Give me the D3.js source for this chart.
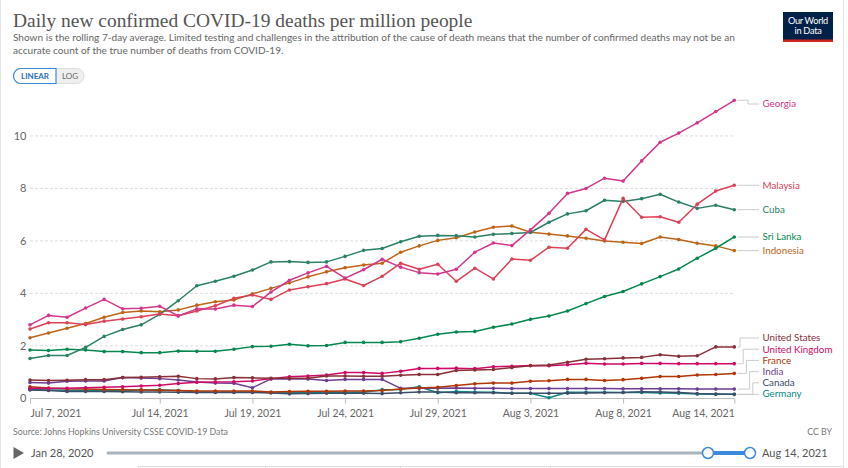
<!DOCTYPE html>
<html><head><meta charset="utf-8">
<script src="https://cdn.jsdelivr.net/npm/d3@7"></script>
<style>
html,body{margin:0;padding:0;background:#fff;}
svg{display:block;font-family:Lato,"Noto Sans",sans-serif;}
</style></head>
<body>
<svg id="chart" width="848" height="468"></svg>
<script>
// ---- data ----
const startDate = "2021-07-07";
const endDate = "2021-08-14";
const tickDates = ["2021-07-07","2021-07-14","2021-07-19","2021-07-24","2021-07-29","2021-08-03","2021-08-08","2021-08-14"];
const tickLabels = ["Jul 7, 2021","Jul 14, 2021","Jul 19, 2021","Jul 24, 2021","Jul 29, 2021","Aug 3, 2021","Aug 8, 2021","Aug 14, 2021"];
const yTicks = [0,2,4,6,8,10];

const countries = ["Georgia","Malaysia","Cuba","Sri Lanka","Indonesia","United States","United Kingdom","France","India","Canada","Germany"];
const colors = ["#D3378C","#DC4257","#2C8068","#05874F","#BE6418","#883039","#CF0A66","#B13507","#6D3E91","#3B4D68","#0E8884"];

const georgia   = [2.80,3.16,3.09,3.44,3.77,3.41,3.43,3.51,3.14,3.41, 3.40,3.55,3.50,4.05,4.50,4.78,5.03,4.58,4.90,5.30, 5.00,4.79,4.74,4.92,5.57,5.92,5.82,6.42,7.05,7.81, 8.00,8.39,8.28,9.05,9.76,10.11,10.50,10.93,11.36];
const malaysia  = [2.64,2.88,2.88,2.81,2.94,3.02,3.11,3.21,3.15,3.33, 3.53,3.81,3.94,3.77,4.13,4.25,4.37,4.55,4.30,4.65, 5.15,4.92,5.11,4.46,4.96,4.55,5.31,5.26,5.76,5.72, 6.44,6.04,7.62,6.90,6.92,6.71,7.40,7.90,8.12];
const cuba      = [1.52,1.63,1.63,1.94,2.36,2.62,2.80,3.20,3.72,4.29, 4.46,4.65,4.89,5.20,5.21,5.18,5.20,5.41,5.64,5.71, 5.97,6.18,6.21,6.20,6.15,6.25,6.28,6.32,6.71,7.03, 7.15,7.55,7.50,7.61,7.78,7.48,7.24,7.36,7.19];
const sriLanka  = [1.84,1.82,1.87,1.84,1.78,1.78,1.74,1.74,1.80,1.79, 1.79,1.87,1.97,1.98,2.06,2.00,2.01,2.13,2.13,2.13, 2.16,2.29,2.44,2.53,2.55,2.71,2.83,3.01,3.14,3.33, 3.61,3.88,4.07,4.36,4.64,4.93,5.34,5.72,6.15];
const indonesia = [2.31,2.49,2.67,2.85,3.09,3.27,3.33,3.30,3.37,3.55, 3.68,3.75,3.98,4.19,4.40,4.63,4.82,4.98,5.08,5.15, 5.57,5.81,6.02,6.12,6.34,6.52,6.57,6.33,6.26,6.19, 6.10,6.00,5.95,5.90,6.15,6.05,5.91,5.81,5.63];
const unitedStates = [0.70,0.68,0.69,0.71,0.71,0.79,0.80,0.82,0.84,0.75, 0.74,0.79,0.78,0.76,0.76,0.76,0.85,0.85,0.84,0.84, 0.88,0.91,0.91,1.06,1.08,1.10,1.17,1.24,1.27,1.37, 1.49,1.51,1.54,1.56,1.66,1.60,1.62,1.96,1.96];
const unitedKingdom = [0.38,0.37,0.38,0.40,0.42,0.44,0.47,0.50,0.56,0.61, 0.62,0.63,0.66,0.75,0.82,0.85,0.89,0.98,0.98,0.95, 1.03,1.14,1.14,1.15,1.13,1.20,1.22,1.25,1.24,1.28, 1.34,1.31,1.31,1.33,1.33,1.32,1.32,1.32,1.32];
const france    = [0.44,0.39,0.36,0.35,0.34,0.33,0.32,0.31,0.30,0.28, 0.28,0.28,0.28,0.24,0.26,0.27,0.27,0.28,0.28,0.30, 0.35,0.39,0.42,0.49,0.55,0.58,0.58,0.65,0.67,0.72, 0.72,0.68,0.71,0.76,0.83,0.83,0.89,0.91,0.95];
const india     = [0.60,0.58,0.65,0.66,0.66,0.79,0.77,0.75,0.70,0.62, 0.58,0.57,0.40,0.74,0.74,0.74,0.68,0.72,0.72,0.72, 0.38,0.38,0.38,0.39,0.38,0.38,0.37,0.37,0.37,0.37, 0.37,0.37,0.36,0.36,0.36,0.36,0.35,0.35,0.35];
const canada    = [0.32,0.30,0.26,0.26,0.26,0.25,0.24,0.24,0.23,0.22, 0.22,0.22,0.22,0.20,0.17,0.18,0.19,0.19,0.19,0.18, 0.21,0.24,0.24,0.21,0.21,0.21,0.19,0.19,0.19,0.19, 0.20,0.21,0.22,0.25,0.24,0.22,0.18,0.16,0.15];
const germany   = [0.34,0.32,0.31,0.30,0.30,0.29,0.32,0.33,0.30,0.25, 0.24,0.24,0.24,0.22,0.22,0.23,0.23,0.23,0.23,0.33, 0.34,0.44,0.21,0.26,0.24,0.23,0.19,0.19,0.02,0.23, 0.23,0.23,0.22,0.22,0.20,0.19,0.16,0.15,0.15];
const seriesValues = [georgia,malaysia,cuba,sriLanka,indonesia,unitedStates,unitedKingdom,france,india,canada,germany];

const titleText = "Daily new confirmed COVID-19 deaths per million people";
const subtitleLines = ["Shown is the rolling 7-day average. Limited testing and challenges in the attribution of the cause of death means that the number of confirmed deaths may not be an",
  "accurate count of the true number of deaths from COVID-19."];
const sourceText = "Source: Johns Hopkins University CSSE COVID-19 Data";

// ---- build ----
const parse = d3.utcParse("%Y-%m-%d");
const dates = d3.utcDays(parse(startDate), d3.utcDay.offset(parse(endDate),1));
const series = countries.map((name,i)=>({name, color:colors[i], values: seriesValues[i].map((v,j)=>({date:dates[j], value:v}))}));

const svg = d3.select("#chart");
const x = d3.scaleUtc().domain([parse(startDate), parse(endDate)]).range([30, 734.3]);
const y = d3.scaleLinear().domain([0, 12]).range([398.3, 83.5]);

// frame
svg.append("line").attr("x1",0.5).attr("x2",0.5).attr("y1",0).attr("y2",468).attr("stroke","#e4e4e4");
svg.append("line").attr("x1",843.5).attr("x2",843.5).attr("y1",0).attr("y2",468).attr("stroke","#e4e4e4");

function fitText(sel, targetW){
  const w = sel.node().getComputedTextLength();
  const fs = parseFloat(sel.attr("font-size"));
  sel.attr("font-size", (fs*targetW/w).toFixed(2));
}
const title = svg.append("text").attr("x",13).attr("y",26.5)
  .style("font-family","'Liberation Serif','DejaVu Serif',serif")
  .attr("font-size",20).attr("fill","#555").text(titleText);
fitText(title, 460);
let subSize = 10.5;
subtitleLines.forEach((t,i)=>{
  const s = svg.append("text").attr("x",13).attr("y",41+i*13.3).attr("font-size",subSize).attr("fill","#666").text(t);
  if(i===0){ fitText(s, 722); subSize = s.attr("font-size"); }
  else s.attr("font-size", subSize);
});

// logo
const logo = svg.append("g");
logo.append("rect").attr("x",783).attr("y",12).attr("width",50).attr("height",30).attr("fill","#002147");
logo.append("rect").attr("x",783).attr("y",39.5).attr("width",50).attr("height",2.5).attr("fill","#ce261e");
logo.append("text").attr("x",808).attr("y",23.5).attr("text-anchor","middle").attr("font-size",9.2).attr("fill","#fff").attr("letter-spacing","-0.3").text("Our World");
logo.append("text").attr("x",808).attr("y",33.5).attr("text-anchor","middle").attr("font-size",9.2).attr("fill","#fff").attr("letter-spacing","-0.3").text("in Data");

// linear/log toggle
const tg = svg.append("g");
tg.append("rect").attr("x",13.5).attr("y",68.5).attr("width",70.5).attr("height",15).attr("rx",7.5).attr("fill","#efefef").attr("stroke","#ddd");
tg.append("path").attr("d","M 56 68.5 H 21 A 7.5 7.5 0 0 0 21 83.5 H 56 Z").attr("fill","#fff").attr("stroke","#3b8ad9").attr("stroke-width",1.2);
tg.append("text").attr("x",35).attr("y",79).attr("text-anchor","middle").attr("font-size",8).attr("fill","#2a6fb8").attr("font-weight","bold").text("LINEAR");
tg.append("text").attr("x",70).attr("y",79).attr("text-anchor","middle").attr("font-size",8).attr("fill","#666").text("LOG");

// grid
const grid = svg.append("g");
yTicks.filter(v=>v>0).forEach(v=>{
  grid.append("line").attr("x1",30).attr("x2",734.3).attr("y1",y(v)).attr("y2",y(v))
    .attr("stroke","#ddd").attr("stroke-dasharray","3,2");
});
const yAxis = d3.axisLeft(y).tickValues(yTicks).tickSize(0).tickPadding(0).tickFormat(d3.format("d"));
const yg = svg.append("g").attr("transform","translate(26.5,0)").call(yAxis);
yg.select(".domain").remove();
yg.selectAll("text").attr("font-size",11).attr("fill","#666").attr("font-family","Lato,sans-serif");

// x axis
const xAxis = d3.axisBottom(x).tickValues(tickDates.map(parse)).tickSize(5).tickPadding(6)
  .tickFormat((d,i)=>tickLabels[i]);
const xg = svg.append("g").attr("transform","translate(0,398.5)").call(xAxis);
xg.select(".domain").attr("stroke","#bbb").attr("d","M30,0H734.3");
xg.selectAll(".tick line").attr("stroke","#bbb");
xg.selectAll("text").attr("font-size",10.5).attr("fill","#666").attr("font-family","Lato,sans-serif")
  .attr("text-anchor",(d,i)=> i===0 ? "start" : (i===tickLabels.length-1 ? "end" : "middle"));

// lines
const line = d3.line().x(d=>x(d.date)).y(d=>y(d.value));
const lg = svg.append("g");
series.slice().reverse().forEach(s=>{
  lg.append("path").attr("d",line(s.values)).attr("fill","none").attr("stroke",s.color).attr("stroke-width",1.5).attr("stroke-linejoin","round");
  lg.selectAll(null).data(s.values).enter().append("circle").attr("cx",d=>x(d.date)).attr("cy",d=>y(d.value)).attr("r",1.8).attr("fill",s.color);
});

// labels with collision avoidance
const spacing = 11.2, topBound = 104, bottomBound = 394;
const labs = series.map(s=>({s, ideal:y(s.values[s.values.length-1].value)})).sort((a,b)=>a.ideal-b.ideal);
labs.forEach(l=>l.y=Math.max(topBound, Math.min(bottomBound, l.ideal)));
for(let it=0; it<50; it++){
  for(let i=1;i<labs.length;i++){ if(labs[i].y-labs[i-1].y<spacing) labs[i].y=labs[i-1].y+spacing; }
  for(let i=labs.length-1;i>=0;i--){
    if(labs[i].y>bottomBound) labs[i].y=bottomBound;
    if(i<labs.length-1 && labs[i+1].y-labs[i].y<spacing) labs[i].y=labs[i+1].y-spacing;
  }
}
const lab = svg.append("g");
let shiftIdx = 0;
labs.forEach((l,i)=>{
  const x0 = x(parse(endDate))+3.5, x1 = 759;
  let d;
  if(Math.abs(l.y-l.ideal)<1.5){ d = `M${x0},${l.ideal}H${x1}`; }
  else {
    const ex = l.ideal < 200 ? 748 : 740 + shiftIdx*3.2; shiftIdx += (l.ideal<200?0:1);
    d = `M${x0},${l.ideal}H${ex}V${l.y}H${x1}`;
  }
  lab.append("path").attr("d",d).attr("fill","none").attr("stroke","#ccc").attr("stroke-width",1);
  lab.append("text").attr("x",762.5).attr("y",l.y).attr("dy","0.35em").attr("font-size",9.8).attr("fill",l.s.color).text(l.s.name);
});

// source
svg.append("text").attr("x",13).attr("y",435).attr("font-size",8.8).attr("fill","#777").text(sourceText);
svg.append("text").attr("x",832).attr("y",435).attr("text-anchor","end").attr("font-size",8.8).attr("fill","#777").text("CC BY");

// timeline
const tl = svg.append("g");
tl.append("path").attr("d","M13.5,447 L24,453 L13.5,459 Z").attr("fill","#666");
tl.append("text").attr("x",31).attr("y",457).attr("font-size",11).attr("fill","#555").text("Jan 28, 2020");
tl.append("line").attr("x1",108).attr("x2",708).attr("y1",453).attr("y2",453).attr("stroke","#a9b4be").attr("stroke-width",3).attr("stroke-linecap","round");
tl.append("line").attr("x1",708).attr("x2",750).attr("y1",453).attr("y2",453).attr("stroke","#3b8ad9").attr("stroke-width",4);
[708,750].forEach(cx=>tl.append("circle").attr("cx",cx).attr("cy",453).attr("r",5.5).attr("fill","#fff").attr("stroke","#3b8ad9").attr("stroke-width",1.5));
tl.append("text").attr("x",762).attr("y",457).attr("font-size",11).attr("fill","#555").text("Aug 14, 2021");

// bottom tab bar
svg.append("line").attr("x1",138).attr("x2",843).attr("y1",466.5).attr("y2",466.5).attr("stroke","#ddd");
[138,265,400,550].forEach(xx=>svg.append("line").attr("x1",xx+0.5).attr("x2",xx+0.5).attr("y1",466.5).attr("y2",468).attr("stroke","#ddd"));
</script>
</body></html>
